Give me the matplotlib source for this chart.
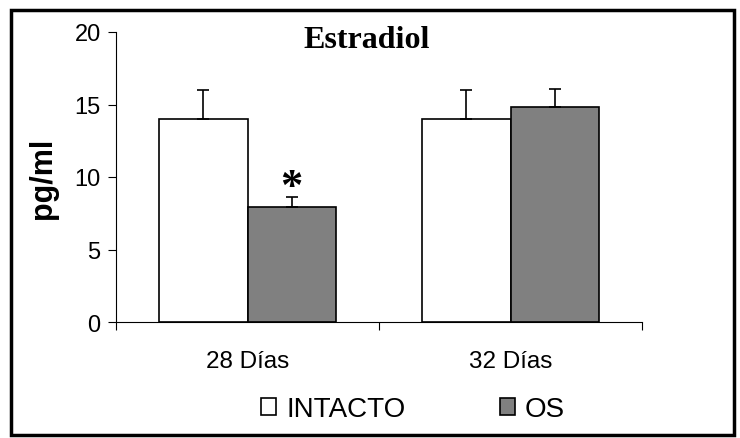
import numpy as np
import matplotlib.pyplot as plt
from matplotlib.patches import Rectangle

# datos
grupos = ['28 Días', '32 Días']
intacto = [14.0, 14.0]
intacto_err = [2.0, 2.0]
os_vals = [7.9, 14.8]
os_err = [0.7, 1.3]

plt.rcParams['font.family'] = ['Liberation Sans', 'DejaVu Sans']

fig = plt.figure(figsize=(7.4, 4.39), dpi=100)
ax = fig.add_axes([116/740, 1-323/439, (642-116)/740, (323-33)/439])

x = np.arange(len(grupos))
w = 0.335
ax.bar(x - w/2, intacto, w, color='white', edgecolor='black', lw=1.2, label='INTACTO')
ax.bar(x + w/2, os_vals, w, color='#808080', edgecolor='black', lw=1.2, label='OS')
ax.errorbar(x - w/2, intacto, yerr=[np.zeros(2), intacto_err], fmt='none',
            ecolor='black', elinewidth=1.2, capsize=4, capthick=1.2)
ax.errorbar(x + w/2, os_vals, yerr=[np.zeros(2), os_err], fmt='none',
            ecolor='black', elinewidth=1.2, capsize=4, capthick=1.2)

# asterisco de significancia
ax.text(x[0] + w/2, os_vals[0] + os_err[0] - 0.7, '*', ha='center', va='bottom',
        fontsize=32, fontweight='bold', family='Liberation Serif')

ax.set_xlim(-0.5, 1.5)
ax.set_ylim(0, 20)
ax.set_yticks([0, 5, 10, 15, 20])
ax.tick_params(axis='y', labelsize=17, direction='out', length=6, width=0.8, pad=5)
ax.set_xticks([-0.5, 0.5, 1.5])
ax.set_xticklabels([])
ax.tick_params(axis='x', which='major', direction='out', length=6, width=0.8)
ax.set_xticks(x, minor=True)
ax.set_xticklabels(grupos, minor=True, fontsize=17.5)
ax.tick_params(axis='x', which='minor', length=0, pad=20)
for s in ['top', 'right']:
    ax.spines[s].set_visible(False)
for s in ['left', 'bottom']:
    ax.spines[s].set_linewidth(0.8)

ax.set_ylabel('pg/ml', fontsize=22, fontweight='bold', labelpad=12)
fig.text(367/740, 1-41/439, 'Estradiol', ha='center', va='center',
         fontsize=23, fontweight='bold', family='Liberation Serif')

fig.legend(loc='center', bbox_to_anchor=(413/740, 1-410/439), ncol=2, frameon=False,
           fontsize=20, handlelength=0.55, handleheight=0.55, handletextpad=0.35,
           columnspacing=3.4)

# marco negro alrededor de la figura
fig.patches.append(Rectangle((11/740, 3/439), 723/740, 425/439, transform=fig.transFigure,
                             fill=False, edgecolor='black', lw=2.5))

fig.savefig('out.png', dpi=100)
